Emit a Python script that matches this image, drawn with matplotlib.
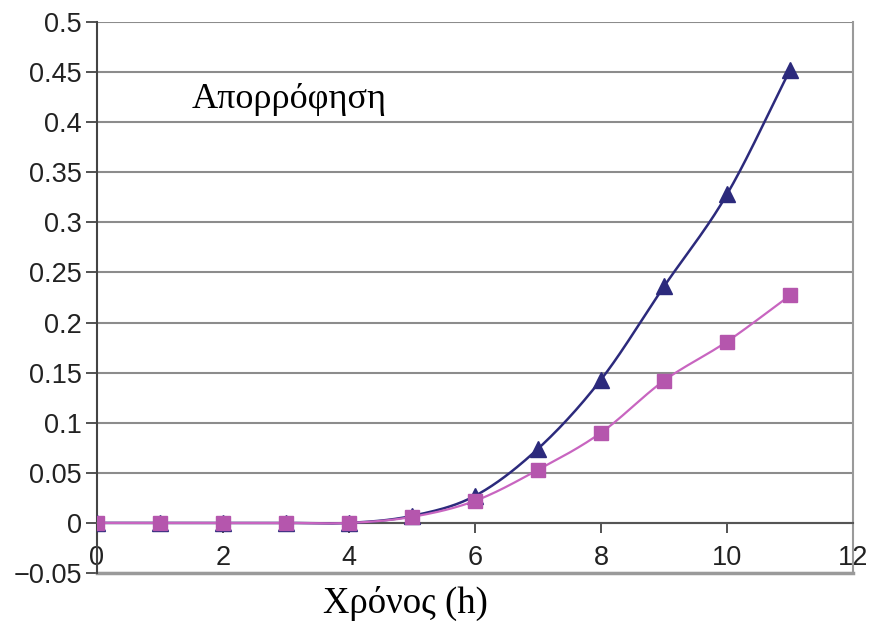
import numpy as np
import matplotlib
matplotlib.use("Agg")
import matplotlib.pyplot as plt

# Δεδομένα (τιμές από το γράφημα)
hours = [0, 1, 2, 3, 4, 5, 6, 7, 8, 9, 10, 11]
abs_triangle = [0, 0, 0, 0, 0, 0.007, 0.027, 0.074, 0.143, 0.236, 0.328, 0.452]
abs_square = [0, 0, 0, 0, 0, 0.006, 0.022, 0.053, 0.090, 0.142, 0.181, 0.227]

x_ticks = [0, 2, 4, 6, 8, 10, 12]
y_ticks = [-0.05, 0, 0.05, 0.1, 0.15, 0.2, 0.25, 0.3, 0.35, 0.4, 0.45, 0.5]
y_labels = ["\u22120.05", "0", "0.05", "0.1", "0.15", "0.2", "0.25", "0.3",
            "0.35", "0.4", "0.45", "0.5"]


# ομαλή καμπύλη τύπου Excel (Catmull-Rom) μόνο για το σχέδιο της γραμμής
def smooth(xs, ys, n=30):
    xs = np.asarray(xs, float)
    ys = np.asarray(ys, float)
    px = np.concatenate([[2 * xs[0] - xs[1]], xs, [2 * xs[-1] - xs[-2]]])
    py = np.concatenate([[2 * ys[0] - ys[1]], ys, [2 * ys[-1] - ys[-2]]])
    out_x, out_y = [], []
    t = np.linspace(0, 1, n, endpoint=False)
    for i in range(1, len(px) - 2):
        for p, out in ((px, out_x), (py, out_y)):
            p0, p1, p2, p3 = p[i - 1], p[i], p[i + 1], p[i + 2]
            out.extend(0.5 * (2 * p1 + (-p0 + p2) * t
                              + (2 * p0 - 5 * p1 + 4 * p2 - p3) * t ** 2
                              + (-p0 + 3 * p1 - 3 * p2 + p3) * t ** 3))
    out_x.append(xs[-1])
    out_y.append(ys[-1])
    return np.array(out_x), np.array(out_y)


fig = plt.figure(figsize=(8.69, 6.24), dpi=100)
ax = fig.add_axes([97 / 869, 1 - 573 / 624, (853 - 97) / 869, (573 - 22) / 624])

navy = "#2c2a7c"
pink = "#b556ad"

sx, sy = smooth(hours, abs_triangle)
ax.plot(sx, sy, color=navy, lw=1.8, zorder=3)
ax.plot(hours, abs_triangle, ls="none", marker="^", ms=11, color=navy, zorder=4)

sx, sy = smooth(hours, abs_square)
ax.plot(sx, sy, color="#c865c0", lw=1.6, zorder=5)
ax.plot(hours, abs_square, ls="none", marker="s", ms=9.5, color=pink, zorder=6)

ax.set_xlim(0, 12)
ax.set_ylim(-0.05, 0.5)
ax.set_xticks(x_ticks)
ax.set_yticks(y_ticks)
ax.set_yticklabels(y_labels)

ax.grid(axis="y", color="#8c8c8c", lw=1.5)
ax.set_axisbelow(True)

ax.spines["bottom"].set_position(("data", 0))
ax.spines["bottom"].set_color("#555555")
ax.spines["bottom"].set_linewidth(1.5)
ax.spines["left"].set_color("#444444")
ax.spines["left"].set_linewidth(1.5)
ax.spines["right"].set_color("#9a9a9a")
ax.spines["right"].set_linewidth(1.5)
ax.spines["top"].set_visible(False)

ax.tick_params(axis="x", direction="out", length=7, width=1.3, color="#444444",
               labelsize=19.5, labelcolor="#222222", pad=9)
ax.tick_params(axis="y", direction="out", length=8, width=1.3, color="#444444",
               labelsize=19.5, labelcolor="#222222", pad=3)
for lab in ax.get_xticklabels() + ax.get_yticklabels():
    lab.set_family("Liberation Sans")

# γραμμή στο -0.05 (κάτω πλαίσιο)
ax.axhline(-0.05, color="#9a9a9a", lw=2.5, clip_on=False, zorder=1)

ax.text(192 / 869, 1 - 100 / 624, "Απορρόφηση", transform=fig.transFigure,
        family="Liberation Serif", fontsize=26, va="center", ha="left")
fig.text(405 / 869, 1 - 603 / 624, "Χρόνος (h)", family="Liberation Serif",
         fontsize=26.5, va="center", ha="center")

fig.savefig("out.png", dpi=100)
